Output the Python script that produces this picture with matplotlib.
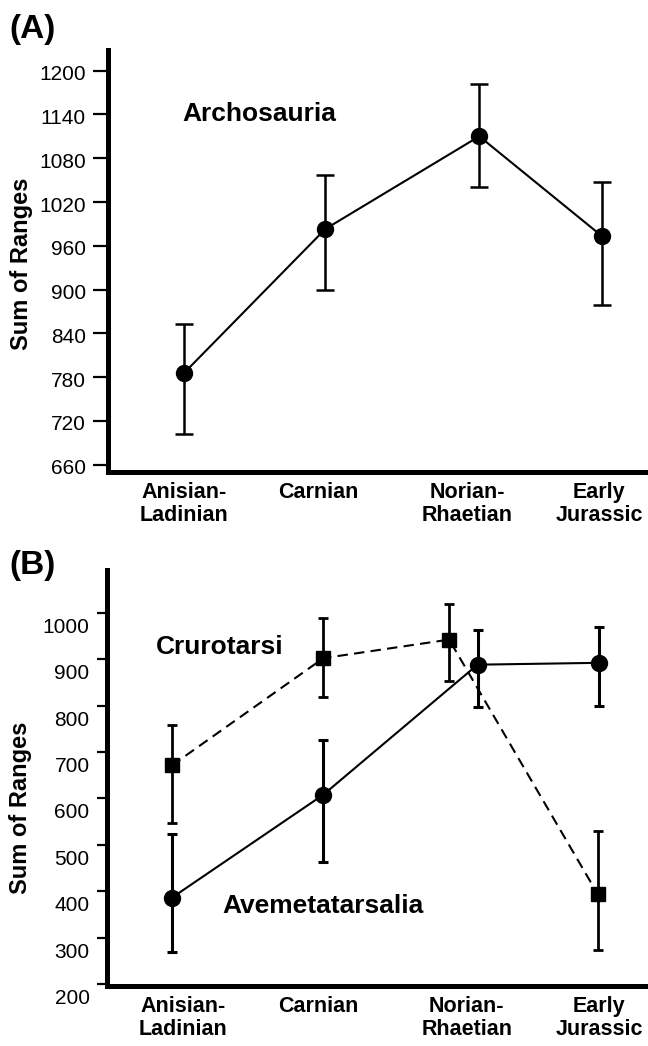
import matplotlib
matplotlib.use('Agg')
import matplotlib.pyplot as plt
import matplotlib.transforms as mtransforms

plt.rcParams['font.family'] = ['Liberation Sans', 'DejaVu Sans']

# stages along the time axis (tick positions)
stages = ['Anisian-\nLadinian', 'Carnian', 'Norian-\nRhaetian', 'Early\nJurassic']
stage_x = [0, 1.0, 2.1, 3.08]

# (A) Archosauria
arch_x = [0, 1.05, 2.19, 3.1]
arch_y = [785, 983, 1110, 973]
arch_lo = [702, 899, 1041, 879]
arch_hi = [853, 1057, 1182, 1048]

# (B) Crurotarsi (squares, dashed)
cru_x = [-0.08, 1.04, 1.97, 3.07]
cru_y = [671, 902, 942, 393]
cru_lo = [548, 818, 853, 274]
cru_hi = [758, 988, 1018, 530]

# (B) Avemetatarsalia (circles, solid)
ave_x = [-0.08, 1.04, 2.18, 3.08]
ave_y = [386, 608, 888, 892]
ave_lo = [270, 462, 796, 799]
ave_hi = [523, 725, 962, 970]

ticks_a = [660, 720, 780, 840, 900, 960, 1020, 1080, 1140, 1200]
ticks_b = [200, 300, 400, 500, 600, 700, 800, 900, 1000]


def errs(y, lo, hi):
    return [[v - l for v, l in zip(y, lo)], [h - v for v, h in zip(y, hi)]]


def style_axis(ax, ticklen, drop):
    ax.spines['top'].set_visible(False)
    ax.spines['right'].set_visible(False)
    ax.spines['left'].set_linewidth(3.6)
    ax.spines['bottom'].set_linewidth(3.6)
    ax.set_xlim(-0.56, 3.44)
    ax.set_xticks(stage_x)
    ax.set_xticklabels(stages, fontsize=15.5, fontweight='bold', linespacing=1.15)
    ax.tick_params(axis='x', length=0, pad=7)
    ax.tick_params(axis='y', length=ticklen, width=1.6, labelsize=15, pad=5)
    ax.set_ylabel('Sum of Ranges', fontsize=17, fontweight='bold')
    # the y numbers sit a little below their tick marks in the original
    shift = mtransforms.ScaledTranslation(0, -drop / 72, fig.dpi_scale_trans)
    for lab in ax.get_yticklabels():
        lab.set_transform(lab.get_transform() + shift)


fig = plt.figure(figsize=(6.48, 10.46), dpi=100)

axA = fig.add_axes([0.1667, 0.5488, 0.8333, 0.4032])
axA.errorbar(arch_x, arch_y, yerr=errs(arch_y, arch_lo, arch_hi), color='black',
             marker='o', markersize=11.5, lw=1.5, elinewidth=1.8, capsize=6.5,
             capthick=1.8)
axA.set_ylim(650, 1228)
axA.set_yticks(ticks_a)
style_axis(axA, 11, 1.5)
axA.yaxis.set_label_coords(-0.139, 0.493)
axA.text(0.56, 1141, 'Archosauria', fontsize=19, fontweight='bold',
         ha='center', va='center')
fig.text(0.015, 0.987, '(A)', fontsize=24, fontweight='bold', va='top')

axB = fig.add_axes([0.165, 0.0574, 0.835, 0.3977])
axB.errorbar(ave_x, ave_y, yerr=errs(ave_y, ave_lo, ave_hi), color='black',
             marker='o', markersize=11.5, lw=1.5, elinewidth=2.2, capsize=3.5,
             capthick=2.2)
axB.errorbar(cru_x, cru_y, yerr=errs(cru_y, cru_lo, cru_hi), color='black',
             marker='s', markersize=10, lw=1.5, ls=(0, (5, 3)), elinewidth=2.0,
             capsize=3.5, capthick=2.0)
axB.set_ylim(196, 1092)
axB.set_yticks(ticks_b)
style_axis(axB, 7.5, 9)
axB.yaxis.set_label_coords(-0.139, 0.428)
axB.text(0.27, 926, 'Crurotarsi', fontsize=19, fontweight='bold',
         ha='center', va='center')
axB.text(1.04, 369, 'Avemetatarsalia', fontsize=19, fontweight='bold',
         ha='center', va='center')
fig.text(0.015, 0.474, '(B)', fontsize=24, fontweight='bold', va='top')

fig.savefig('out.png', dpi=100)
